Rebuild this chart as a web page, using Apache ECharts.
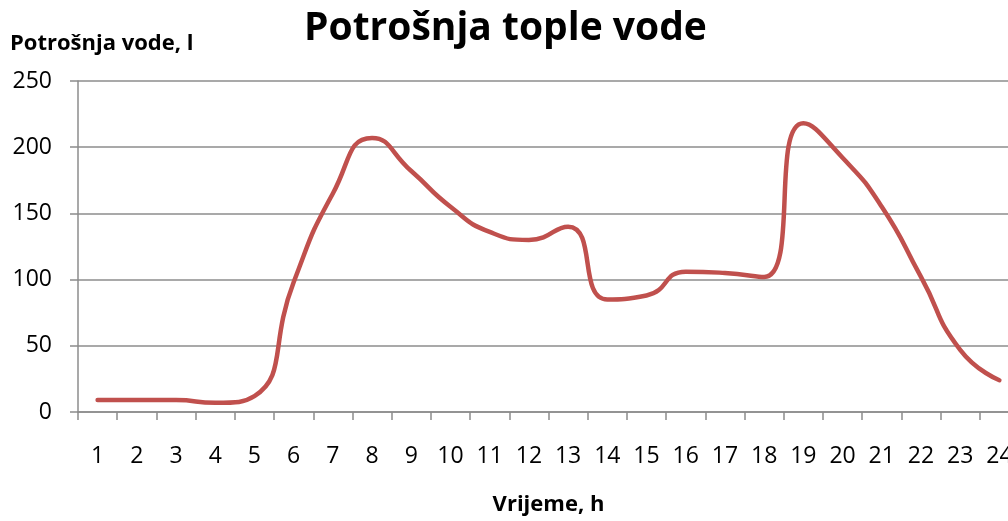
<!DOCTYPE html>
<html>
<head>
<meta charset="utf-8">
<script src="https://cdn.jsdelivr.net/npm/echarts@6/dist/echarts.min.js"></script>
<style>
html,body{margin:0;padding:0;background:#fff;}
#chart{width:1008px;height:521px;}
</style>
</head>
<body>
<div id="chart"></div>
<script>
const categories = ['1','2','3','4','5','6','7','8','9','10','11','12','13','14','15','16','17','18','19','20','21','22','23','24'];
const consumption = [9, 9, 9, 7, 12, 98, 165, 207, 182, 155, 136, 130, 140, 85, 88, 106, 105, 102, 218, 192, 155, 102, 47, 24];
const titleText = 'Potrošnja tople vode';
const yAxisName = 'Potrošnja vode, l';
const xAxisName = 'Vrijeme, h';

const FONT = '"Open Sans", "DejaVu Sans", sans-serif';
const chart = echarts.init(document.getElementById('chart'), null, {renderer: 'canvas'});
chart.setOption({
  animation: false,
  backgroundColor: '#ffffff',
  title: [
    {
      text: titleText,
      left: 304,
      top: 9,
      padding: 0,
      textStyle: {fontFamily: FONT, fontWeight: 'bold', fontSize: 39, color: '#000'}
    },
    {
      text: yAxisName,
      left: 10,
      top: 33,
      padding: 0,
      textStyle: {fontFamily: FONT, fontWeight: 'bold', fontSize: 22, color: '#000'}
    }
  ],
  grid: {left: 78, top: 81, width: 941, height: 331, containLabel: false, outerBoundsMode: 'none'},
  xAxis: {
    type: 'category',
    data: categories,
    boundaryGap: true,
    name: xAxisName,
    nameLocation: 'middle',
    nameGap: 82,
    nameTextStyle: {fontFamily: FONT, fontWeight: 'bold', fontSize: 22, color: '#000'},
    axisLine: {show: true, lineStyle: {color: '#8c8c8c', width: 1.5}},
    axisTick: {show: true, length: 8, alignWithLabel: false, interval: 0, lineStyle: {color: '#8c8c8c', width: 1.5}},
    axisLabel: {interval: 0, margin: 33, fontFamily: FONT, fontSize: 23, color: '#000'},
    splitLine: {show: false}
  },
  yAxis: {
    type: 'value',
    min: 0,
    max: 250,
    interval: 50,
    axisLine: {show: true, lineStyle: {color: '#8c8c8c', width: 1.5}},
    axisTick: {show: true, length: 8, lineStyle: {color: '#8c8c8c', width: 1.5}},
    axisLabel: {margin: 26, fontFamily: FONT, fontSize: 23, color: '#000'},
    splitLine: {show: true, lineStyle: {color: '#8c8c8c', width: 1.5}}
  },
  series: [{
    type: 'line',
    data: consumption,
    smooth: 0.55,
    showSymbol: false,
    symbol: 'none',
    lineStyle: {color: '#C0504D', width: 4.5, cap: 'round', join: 'round'},
    itemStyle: {color: '#C0504D'}
  }]
});
</script>
</body>
</html>
